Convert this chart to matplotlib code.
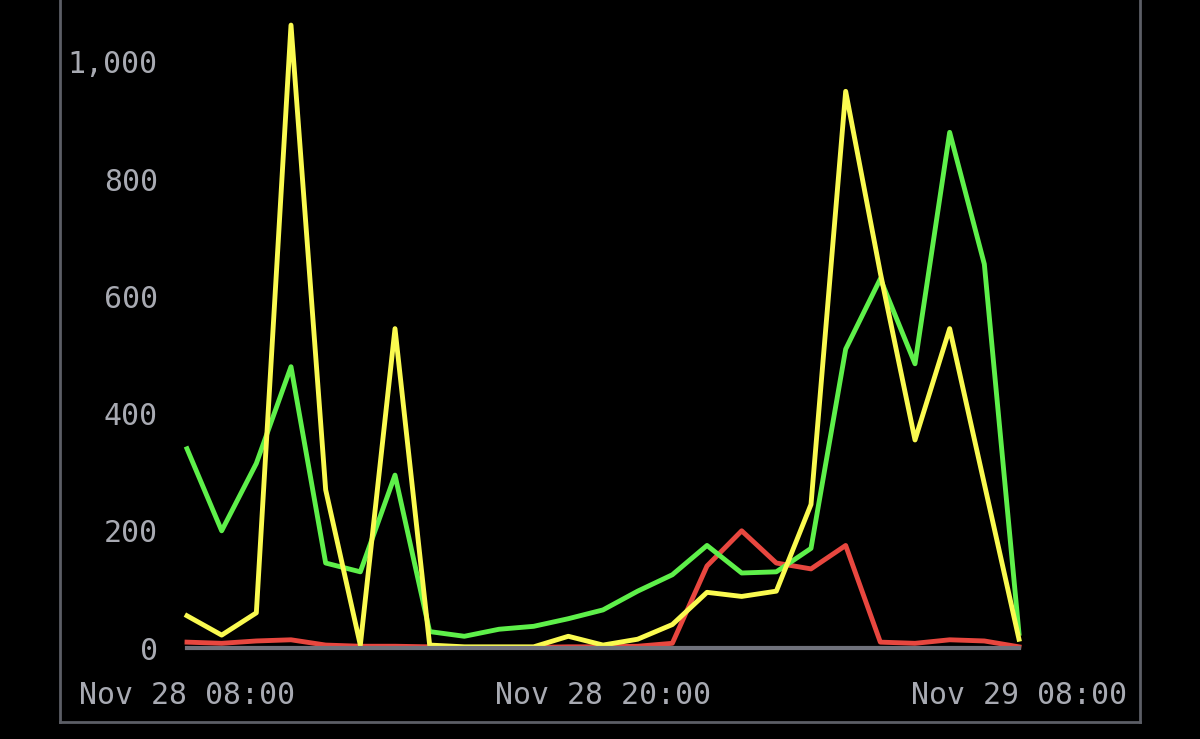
import matplotlib
matplotlib.use("Agg")
import matplotlib.pyplot as plt
from matplotlib.lines import Line2D

hours = list(range(25))
yellow = [55,22,60,1063,270,5,545,5,2,2,2,20,5,15,40,95,88,97,245,950,640,355,545,280,15]
green = [340,200,315,480,145,130,295,28,20,32,37,50,65,97,125,175,128,130,170,510,630,485,880,655,25]
red = [10,8,12,14,5,3,3,2,1,1,1,2,2,3,8,140,200,145,135,175,10,8,14,12,2]
xticks = [0,12,24]
xlabels = ["Nov 28 08:00","Nov 28 20:00","Nov 29 08:00"]
yticks = [0,200,400,600,800,1000]

W,H = 1200,739
fig = plt.figure(figsize=(12,7.39), dpi=100, facecolor="black")
ax = fig.add_axes([187/W, (H-648)/H, (1019-187)/W, 648/H])
ax.set_facecolor("black")
ax.plot(hours, red, color="#e8473f", lw=3.5, clip_on=False)
ax.plot(hours, green, color="#5ef04a", lw=3.5, clip_on=False)
ax.plot(hours, yellow, color="#fafa50", lw=3.5, clip_on=False)
ax.set_xlim(0,24)
ax.set_ylim(0,1000*648/586)
for s in ax.spines.values(): s.set_visible(False)
ax.axhline(0, color="#70727c", lw=3, clip_on=False)
ax.set_xticks(xticks); ax.set_xticklabels(xlabels)
ax.set_yticks(yticks); ax.set_yticklabels([f"{v:,}" for v in yticks])
ax.tick_params(length=0, colors="#a8aab2", labelsize=21.5)
ax.tick_params(axis='x', pad=24)
ax.tick_params(axis='y', pad=21)
for t in ax.get_xticklabels()+ax.get_yticklabels():
    t.set_fontfamily("DejaVu Sans Mono")
col="#5c5e66"
fig.add_artist(Line2D([60/W,60/W],[1,(H-722)/H], color=col, lw=2))
fig.add_artist(Line2D([1140/W,1140/W],[1,(H-722)/H], color=col, lw=2))
fig.add_artist(Line2D([60/W,1140/W],[(H-722)/H,(H-722)/H], color=col, lw=2))
fig.savefig("out.png", facecolor="black")
